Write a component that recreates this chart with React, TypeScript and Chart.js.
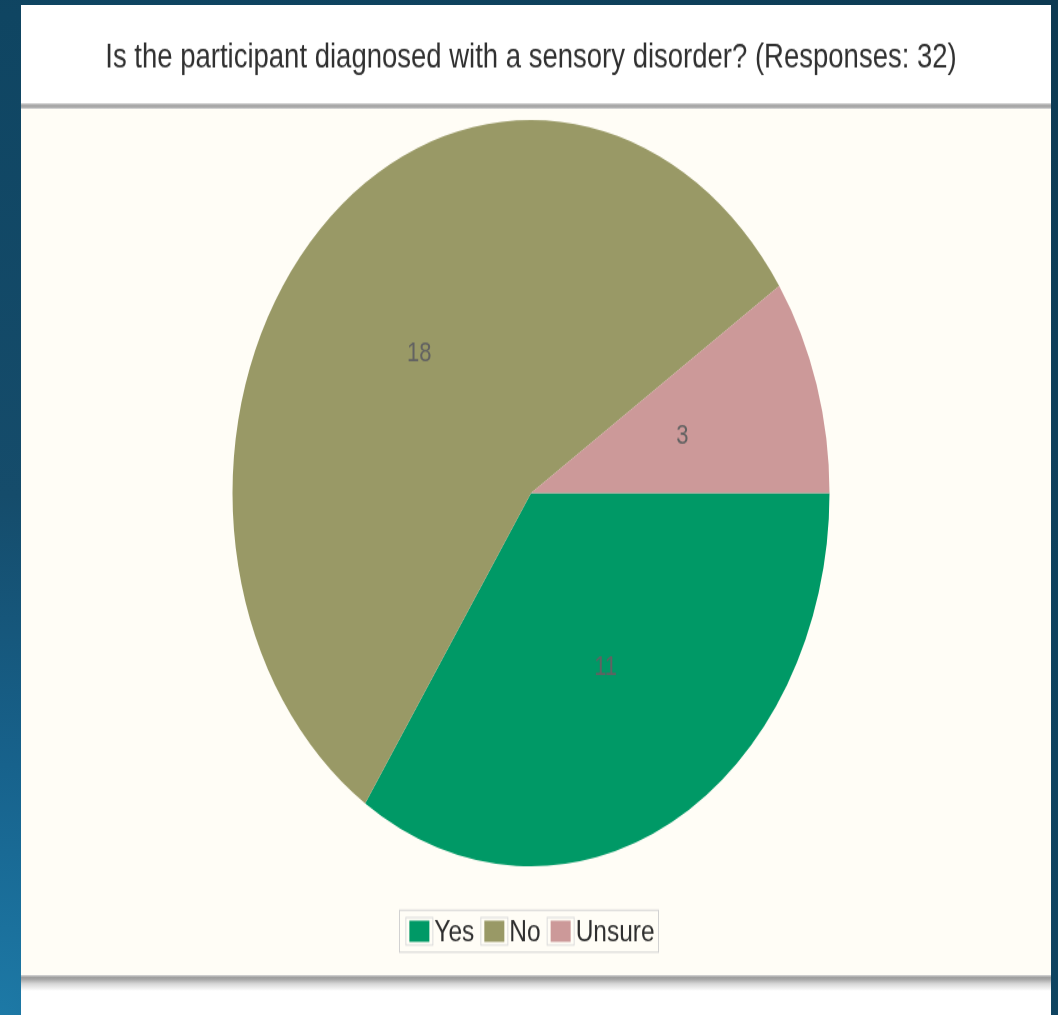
import React, { useEffect, useRef } from "react";
import { Chart, registerables } from "chart.js";

Chart.register(...registerables);

// ---- data ----
const categories: string[] = ["Yes", "No", "Unsure"];
const responses: number[] = [11, 18, 3];
const titleText = "Is the participant diagnosed with a sensory disorder? (Responses: 32)";

// ---- styles ----
const sliceColors = ["#009966", "#999966", "#cc9999"];
const FONT = '"Liberation Sans", Arial, sans-serif';
const W = 1030;
const H = 808; // drawn height; displayed stretched vertically by 1.25
const STRETCH = 1.25;

const sliceLabels = {
  id: "sliceLabels",
  afterDatasetsDraw(chart: any) {
    const meta = chart.getDatasetMeta(0);
    const values = chart.data.datasets[0].data;
    const ctx = chart.ctx;
    ctx.save();
    ctx.font = `22px ${FONT}`;
    ctx.fillStyle = "#626262";
    ctx.textAlign = "center";
    ctx.textBaseline = "middle";
    meta.data.forEach((arc: any, i: number) => {
      const p = arc.getProps(["x", "y", "startAngle", "endAngle", "outerRadius"], true);
      const mid = (p.startAngle + p.endAngle) / 2;
      const r = p.outerRadius * 0.53;
      ctx.fillText(String(values[i]), p.x + Math.cos(mid) * r, p.y + Math.sin(mid) * r);
    });
    ctx.restore();
  },
};

const boxLegend = {
  id: "boxLegend",
  afterDraw(chart: any) {
    const ctx = chart.ctx;
    const labels: string[] = chart.data.labels;
    const colors: string[] = chart.data.datasets[0].backgroundColor;
    const area = chart.chartArea;
    ctx.save();
    ctx.font = `24.5px ${FONT}`;
    const frameW = 28;
    const frameH = 22;
    const swW = 20;
    const swH = 17;
    const gapText = 1;
    const itemGap = 6;
    const padL = 6;
    const padR = 4;
    const widths = labels.map((l) => ctx.measureText(l).width);
    const total =
      padL +
      widths.reduce((s, w) => s + frameW + gapText + w, 0) +
      itemGap * (labels.length - 1) +
      padR;
    const cx = (area.left + area.right) / 2 - 2;
    const cy = area.bottom + 52;
    const boxH = 33.6;
    let x = cx - total / 2;
    ctx.strokeStyle = "#d2d2d2";
    ctx.lineWidth = 1;
    ctx.strokeRect(Math.round(x) + 0.5, cy - boxH / 2, Math.round(total), boxH);
    x += padL;
    ctx.textBaseline = "middle";
    ctx.textAlign = "left";
    labels.forEach((label, i) => {
      ctx.strokeStyle = "#dcdcdc";
      ctx.strokeRect(x + 0.5, cy - frameH / 2, frameW - 1, frameH);
      ctx.fillStyle = colors[i];
      ctx.fillRect(x + (frameW - swW) / 2, cy - swH / 2, swW, swH);
      x += frameW + gapText;
      ctx.fillStyle = "#2e2e2e";
      ctx.fillText(label, x, cy + 1);
      x += widths[i] + itemGap;
    });
    ctx.restore();
  },
};

function PieChart() {
  const ref = useRef<HTMLCanvasElement | null>(null);
  useEffect(() => {
    if (!ref.current) return;
    const chart = new Chart(ref.current, {
      type: "pie",
      data: {
        labels: categories,
        datasets: [
          {
            data: responses,
            backgroundColor: sliceColors,
            borderWidth: 0,
          },
        ],
      },
      options: {
        animation: false,
        responsive: false,
        rotation: 90,
        layout: { padding: { top: 0, left: 0, right: 10, bottom: 119 } },
        plugins: {
          legend: { display: false },
          tooltip: { enabled: false },
          title: {
            display: true,
            text: titleText,
            color: "#303030",
            font: { family: FONT, size: 27.5, weight: "normal", lineHeight: 1.2 },
            padding: { top: 26.3, bottom: 32.7 },
          },
        },
      },
      plugins: [sliceLabels, boxLegend],
    });
    return () => chart.destroy();
  }, []);
  return <canvas ref={ref} width={W} height={H} style={{ width: W, height: H, display: "block" }} />;
}

export default function App() {
  return (
    <div
      style={{
        position: "absolute",
        left: 0,
        top: 0,
        width: 1058,
        height: 1015,
        overflow: "hidden",
        background:
          "radial-gradient(circle at 0% 100%, #1d79a6 0px, #17628c 250px, #154c6b 520px, #0f4562 1000px, #0d3a52 1450px)",
      }}
    >
      {/* panel */}
      <div style={{ position: "absolute", left: 21, top: 5, width: 1030, height: 1010, background: "#ffffff" }} />
      <div style={{ position: "absolute", left: 21, top: 108, width: 1030, height: 868, background: "#fffdf6" }} />
      <div
        style={{
          position: "absolute",
          left: 21,
          top: 103,
          width: 1030,
          height: 6,
          background: "linear-gradient(#e6e6e6, #a8a8a8 35%, #a8a8a8 70%, #e2e2e2)",
        }}
      />
      <div
        style={{
          position: "absolute",
          left: 21,
          top: 975,
          width: 1030,
          height: 16,
          background: "linear-gradient(#d8d8d8, #9e9e9e 15%, #a4a4a4 25%, #d6d6d6 55%, #ffffff)",
        }}
      />
      <div
        style={{
          position: "absolute",
          left: 21,
          top: 5,
          width: W,
          height: H,
          transform: `scaleY(${STRETCH})`,
          transformOrigin: "top left",
        }}
      >
        <PieChart />
      </div>
    </div>
  );
}
